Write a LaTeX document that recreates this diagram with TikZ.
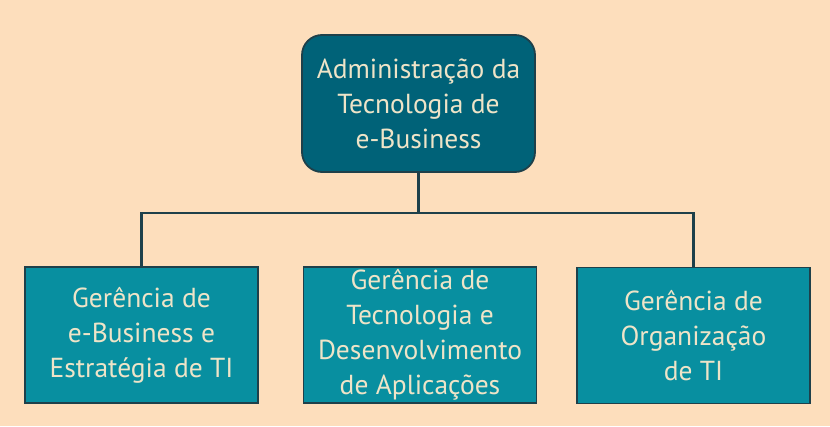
\documentclass[tikz,border=0pt]{standalone}
\usepackage{fontspec}
\setmainfont{PT Sans}
\usepackage{xcolor}
\definecolor{bgPeach}{RGB}{253,222,188}
\definecolor{adminTeal}{RGB}{0,98,120}
\definecolor{areaTeal}{RGB}{8,143,160}
\definecolor{lineDark}{RGB}{30,64,74}
\definecolor{textCream}{RGB}{238,228,200}
\begin{document}
\begin{tikzpicture}[x=1pt, y=-1pt,
  adminbox/.style={draw=lineDark, line width=1.8pt, rounded corners=20pt, fill=adminTeal, text=textCream,
    minimum width=233pt, minimum height=137pt, inner sep=2pt, align=center, font=\fontsize{27.5}{35}\selectfont},
  areabox/.style={draw=lineDark, line width=1.8pt, fill=areaTeal, text=textCream,
    minimum width=233pt, minimum height=136pt, inner sep=2pt, align=center, font=\fontsize{27.5}{35}\selectfont},
  link/.style={draw=lineDark, line width=2.2pt}]
\fill[bgPeach] (0,0) rectangle (830,426);
\node[adminbox] (admin) at (418.5,103.5) {Administração da\\Tecnologia de\\e-Business};
\node[areabox] (ebiz) at (141.5,335) {Gerência de\\e-Business e\\Estratégia de TI};
\node[areabox] (tecno) at (420,335) {Gerência de\\Tecnologia e\\Desenvolvimento\\de Aplicações};
\node[areabox] (org) at (693.5,335.5) {Gerência de\\Organização\\de TI};
\coordinate (bus) at (418.5,213);
\draw[link] (admin.south) -- (bus);
\draw[link] (ebiz.north) |- (bus) -| (org.north);
\end{tikzpicture}
\end{document}
